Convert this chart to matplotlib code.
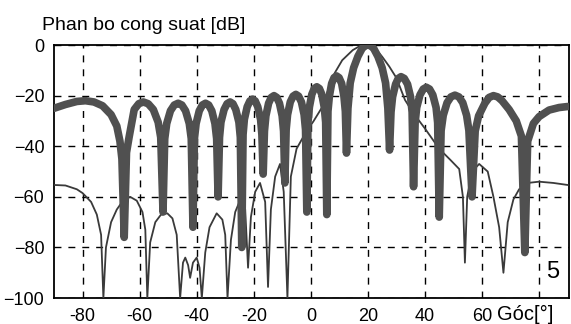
import matplotlib
matplotlib.use("Agg")
import matplotlib.pyplot as plt

plt.rcParams['font.family'] = ['Liberation Sans', 'DejaVu Sans']

# thick curve: uniform array pattern (angle in degrees, level in dB)
thick_deg = [-90, -86, -82, -79, -76, -73, -70, -68, -66.9, -66.2, -65.4,
             -64.6, -63.7, -61.9, -60.3, -58.7, -57.0, -55.2, -53.5, -52.6, -51.8,
             -51.2, -50.5, -49.2, -47.85, -46.5, -45.2, -43.9, -42.6, -41.9, -41.3,
             -40.8, -40.2, -39.1, -38.0, -36.9, -35.8, -34.7, -33.6, -33.0, -32.5,
             -32.0, -31.5, -30.4, -29.35, -28.3, -27.3, -26.3, -25.2, -24.7, -24.2,
             -23.75, -23.3, -22.3, -21.35, -20.4, -19.5, -18.6, -17.6, -17.15, -16.7,
             -16.25, -15.75, -14.8, -13.85, -12.9, -11.95, -11.0, -10.05, -9.55, -9.1,
             -8.65, -8.15, -7.2, -6.2, -5.25, -4.3, -3.3, -2.35, -1.85, -1.4,
             -1.0, -0.5, 0.35, 1.2, 2.1, 3.0, 3.85, 4.7, 5.2, 5.6,
             6.0, 6.5, 7.3, 8.15, 9.0, 9.9, 10.8, 11.6, 12.1, 12.5,
             13.0, 13.8, 15.0, 16.5, 18.0, 19.0, 20.0, 21.0, 22.0, 23.5, 25.0,
             26.2, 27.0, 27.6,
             28.1, 28.65, 29.7, 30.65, 31.6, 32.75, 33.9, 34.95, 35.5, 36.0,
             36.55, 37.1, 38.25, 39.4, 40.5, 41.6, 42.75, 43.9, 44.45, 45.0,
             45.66, 46.4, 47.75, 49.1, 50.5, 51.9, 53.25, 54.6, 55.4, 56.5,
             57.6, 58.8, 61.0, 62.5, 64.0, 65.5, 67.0, 69.5, 72.0, 73.8, 75.0,
             76.0, 78.0, 80.0, 83.5, 87.0, 90.0]
thick_db = [-25, -23.5, -22.3, -22, -22.5, -24, -27.5, -32, -38, -45, -76,
            -42.5, -36.5, -25.5, -23.2, -22.5, -23.2, -25.5, -30.5, -36.5, -66,
            -37, -31, -26, -23.7, -23, -23.7, -26, -31, -37, -72,
            -37, -31, -26, -23.7, -23, -23.7, -26, -31, -37, -60,
            -36.5, -30.5, -25.5, -23.2, -22.5, -23.2, -25.5, -30.5, -36.5, -80,
            -35.4, -29.4, -24.4, -22.1, -21.4, -22.1, -24.4, -29.4, -35.4, -51,
            -34, -28, -23, -20.7, -20, -20.7, -23, -28, -34, -54.5,
            -33.5, -27.5, -22.5, -20.2, -19.5, -20.2, -22.5, -27.5, -33.5, -66,
            -30.5, -24.5, -19.5, -17.2, -16.5, -17.2, -19.5, -24.5, -30.5, -67,
            -26.2, -20.2, -15.2, -12.9, -12.2, -12.9, -15.2, -20.2, -26.2, -42.7,
            -25, -15, -9, -4.5, -1.3, -0.3, 0, -0.3, -1.3, -4.5, -9,
            -15, -25, -41.5,
            -26.5, -20.5, -15.5, -13.2, -12.5, -13.2, -15.5, -20.5, -26.5, -56,
            -30.7, -24.7, -19.7, -17.4, -16.7, -17.4, -19.7, -24.7, -30.7, -68,
            -33.8, -27.8, -22.8, -20.5, -19.8, -20.5, -22.8, -27.8, -33.8, -60,
            -34, -28, -23, -20.7, -20, -20.5, -22, -25.5, -30, -36, -82,
            -38, -31, -28.3, -25.7, -24.7, -24.3]

# thin curve: tapered array pattern
thin_deg = [-90, -86, -82, -80, -77, -75, -73.5, -72.7, -71.8, -70, -68,
            -65.5, -63.3, -61, -59, -58, -57.3, -56.3, -54.5, -52.5, -50.3,
            -48.5, -47, -45.8, -44.8, -44, -43, -42.3, -41.3, -40, -39,
            -38.2, -37, -35.5, -33, -31, -30, -29.2, -28, -26.5, -24.5,
            -23, -22, -21, -19.5, -17.8, -16, -15, -14, -12.5, -10.8,
            -9.5, -8.2, -7, -5, -2, 1, 4, 6, 8.4, 11, 14.7, 17, 20,
            22.5, 25, 27.5, 30, 33, 36, 40, 45, 49, 52, 53.3, 54, 54.8,
            56.5, 59, 62, 64, 66, 67.5, 69, 71, 73, 76, 80, 85, 90]
thin_db = [-55.3, -55.5, -57, -58.5, -62, -67, -75, -100, -80, -70, -65,
           -61, -60, -61.5, -66, -73, -100, -78, -70, -67, -66.5,
           -68.5, -75, -100, -86, -84, -87, -92, -86, -84, -88,
           -100, -82, -72, -66.5, -69, -75, -100, -77, -66, -60.5,
           -65, -88, -68, -58, -54.5, -62, -95.6, -65, -52, -47,
           -58, -100, -52, -41, -35, -30, -24.5, -18, -11, -6, -2, -0.5, 0,
           -1.2, -4.6, -8.5, -13, -21.7, -27, -33, -41, -45.5, -49, -60, -86, -60,
           -50, -47, -50, -60, -72, -90, -70, -61, -57, -54.5, -54, -54.5, -55.3]

xticks = [-80, -60, -40, -20, 0, 20, 40, 60, 80]
xticklabels = ['-80', '-60', '-40', '-20', '0', '20', '40', '60', '']
yticks = [0, -20, -40, -60, -80, -100]

fig = plt.figure(figsize=(5.71, 3.24), dpi=100)
ax = fig.add_axes([0.0946, 0.080, 0.902, 0.781])

ax.plot(thin_deg, thin_db, color='#3a3a3a', lw=1.3, zorder=3)
ax.plot(thick_deg, thick_db, color='#505050', lw=5.5, zorder=4,
        solid_joinstyle='round', solid_capstyle='round')

ax.set_xlim(-90, 90.5)
ax.set_ylim(-100, 0)
ax.set_xticks(xticks)
ax.set_xticklabels(xticklabels)
ax.set_yticks(yticks)
ax.tick_params(length=0, labelsize=13, pad=7)
ax.grid(True, color='black', linestyle=(0, (5, 5)), lw=1.0)
for s in ax.spines.values():
    s.set_linewidth(1.3)

fig.text(0.0735, 0.907, 'Phan bo cong suat [dB]', fontsize=14, va='baseline')
ax.text(0.86, -0.026, 'Góc[°]', transform=ax.transAxes, fontsize=14.5,
        ha='left', va='top')
ax.text(0.968, 0.08, '5', transform=ax.transAxes, fontsize=17,
        ha='center', va='baseline')

fig.savefig('out.png', dpi=100)
